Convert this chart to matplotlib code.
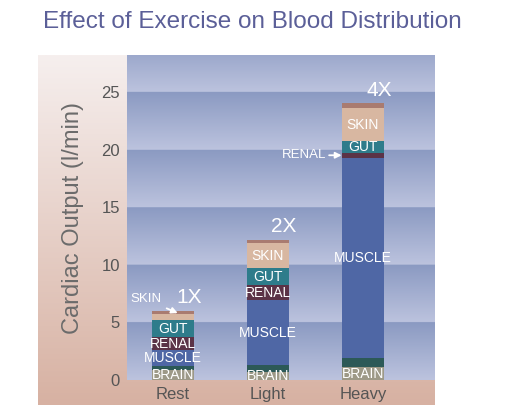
import numpy as np
import matplotlib.pyplot as plt
from matplotlib.colors import LinearSegmentedColormap

plt.rcParams['font.family'] = ['Liberation Sans', 'DejaVu Sans']

# Data (l/min)
levels = ['Rest', 'Light', 'Heavy']
multipliers = ['1X', '2X', '4X']
brain = [0.9, 0.7, 1.1]
heart = [0.3, 0.6, 0.8]
muscle = [1.4, 5.6, 17.4]
renal = [1.1, 1.35, 0.4]
gut = [1.5, 1.45, 1.0]
skin = [0.5, 2.2, 2.9]
other = [0.3, 0.25, 0.4]

segments = [
    ('BRAIN', brain, '#9d9987', [0, 1, 2]),
    ('HEART', heart, '#2c5957', []),
    ('MUSCLE', muscle, '#4f67a5', [0, 1, 2]),
    ('RENAL', renal, '#5b3347', [0, 1]),
    ('GUT', gut, '#2e7c8b', [0, 1, 2]),
    ('SKIN', skin, '#d8b7a1', [1, 2]),
    ('OTHER', other, '#a97b70', []),
]

fig = plt.figure(figsize=(5.05, 4.08), dpi=100)
fig.patch.set_facecolor('white')

# pink backdrop panel
bg = fig.add_axes([38 / 505, 3 / 408, 397 / 505, 350 / 408])
pink = LinearSegmentedColormap.from_list('pink', ['#d7b1a2', '#f6efee'])
bg.imshow(np.linspace(0, 1, 256)[:, None], cmap=pink, aspect='auto',
          origin='lower', extent=[0, 1, 0, 1])
bg.axis('off')

ax = fig.add_axes([127 / 505, 28 / 408, 308 / 505, 325 / 408])
ymax = 28.2
xlim = (-0.484, 2.758)

# banded blue background, darker just under each gridline
yy = np.linspace(0, ymax, 600)
frac = (yy % 5) / 5
blues = LinearSegmentedColormap.from_list('blues', ['#bcc3de', '#8b9ac2'])
ax.imshow(frac[:, None], cmap=blues, aspect='auto', origin='lower',
          extent=[xlim[0], xlim[1], 0, ymax], zorder=0, vmin=0, vmax=1)

x = np.arange(len(levels))
width = 0.45
bottom = np.zeros(len(levels))
mids = {}
for name, vals, color, labelled in segments:
    vals = np.array(vals)
    ax.bar(x, vals, width, bottom=bottom, color=color, zorder=2)
    mids[name] = bottom + vals / 2
    for i in labelled:
        ax.text(x[i], bottom[i] + vals[i] / 2, name, color='white',
                fontsize=10, ha='center', va='center', zorder=3)
    bottom = bottom + vals
totals = bottom

for i, m in enumerate(multipliers):
    ax.annotate(m, xy=(x[i], totals[i]), xytext=(11.5, 9.5),
                textcoords='offset points', ha='center', va='center',
                color='white', fontsize=15, zorder=3)

ax.annotate('SKIN', xy=(x[0] + 0.05, totals[0] - 0.2), xytext=(-23, 10),
            textcoords='offset points', ha='center', va='center',
            color='white', fontsize=9.5, zorder=4,
            arrowprops=dict(arrowstyle='-|>', color='white', lw=1.3,
                            shrinkA=2, shrinkB=0, mutation_scale=9))
ax.annotate('RENAL', xy=(x[2] - width / 2, mids['RENAL'][2]), xytext=(-11, 0),
            textcoords='offset points', ha='right', va='center',
            color='white', fontsize=9.5, zorder=4,
            arrowprops=dict(arrowstyle='-|>', color='white', lw=1.3,
                            shrinkA=0, shrinkB=0, mutation_scale=9))

ax.set_xlim(*xlim)
ax.set_ylim(0, ymax)
ax.set_yticks(range(0, 26, 5))
ax.set_xticks(x)
ax.set_xticklabels(levels)
ax.tick_params(length=0, labelsize=12, colors='#555555', pad=5)
for s in ax.spines.values():
    s.set_visible(False)
ax.set_ylabel('Cardiac Output (l/min)', fontsize=17, color='#6b6b6b')
ax.yaxis.set_label_coords(-0.14, 0.5)

fig.text(252 / 505, 1 - 22 / 408, 'Effect of Exercise on Blood Distribution',
         ha='center', va='center', fontsize=17.5, color='#5b5f98')

fig.savefig('out.png', dpi=100)
